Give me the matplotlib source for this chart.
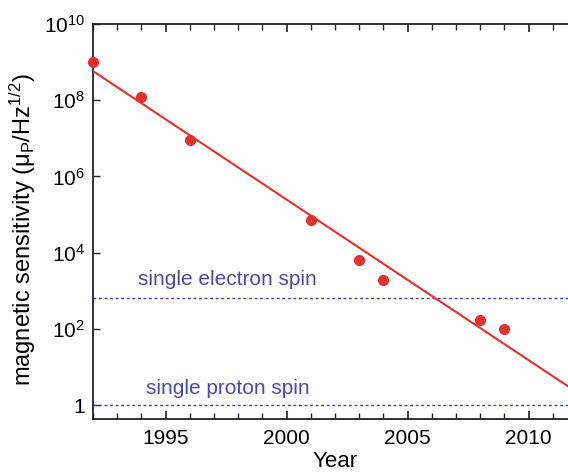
import numpy as np
import matplotlib.pyplot as plt
from matplotlib.ticker import FixedLocator, FixedFormatter, MultipleLocator

plt.rcParams['font.family'] = ['Liberation Sans', 'DejaVu Sans']
plt.rcParams['mathtext.fontset'] = 'custom'
plt.rcParams['mathtext.rm'] = 'Liberation Sans'
plt.rcParams['mathtext.it'] = 'Liberation Sans:italic'

# measured sensitivities
years = [1992, 1994, 1996, 2001, 2003, 2004, 2008, 2009]
sensitivity = [1.0e9, 1.25e8, 9.0e6, 7.0e4, 6.5e3, 1.9e3, 170, 100]

# exponential trend line (end points)
fit_years = [1992, 2011.7]
fit_values = [5.8e8, 2.9]

# reference levels
electron_level = 658
proton_level = 1

ytick_vals = [1, 1e2, 1e4, 1e6, 1e8, 1e10]
ytick_labels = ['1', r'$10^2$', r'$10^4$', r'$10^6$', r'$10^8$', r'$10^{10}$']
xtick_vals = [1995, 2000, 2005, 2010]

red = '#e4312f'
blue = '#3a3acb'
textblue = '#4f4aa8'

fig = plt.figure(figsize=(5.68, 4.73), dpi=100)
ax = fig.add_axes([93/568, 54/473, 475/568, 395/473])

ax.set_yscale('log')
ax.set_xlim(1992, 2011.63)
ax.set_ylim(0.43, 1e10)

ax.plot(fit_years, fit_values, color=red, lw=1.5, zorder=3)
ax.plot(years, sensitivity, 'o', color=red, ms=7, zorder=4, clip_on=False)

ax.axhline(electron_level, color=blue, lw=1.0, ls=(0, (2, 2)))
ax.axhline(proton_level, color=blue, lw=1.0, ls=(0, (2, 2)))
ax.text(1993.85, 1.4e3, 'single electron spin', color=textblue, fontsize=15)
ax.text(1994.2, 2.0, 'single proton spin', color=textblue, fontsize=15)

ax.yaxis.set_major_locator(FixedLocator(ytick_vals))
ax.yaxis.set_major_formatter(FixedFormatter(ytick_labels))
ax.yaxis.set_minor_locator(FixedLocator([]))
ax.xaxis.set_major_locator(FixedLocator(xtick_vals))
ax.xaxis.set_minor_locator(MultipleLocator(1))

ax.tick_params(axis='both', which='both', direction='in', labelsize=15,
               top=True, color='#222222')
ax.tick_params(axis='x', which='major', length=6, width=1.2, pad=7)
ax.tick_params(axis='x', which='minor', length=4, width=1.0)
ax.tick_params(axis='y', which='major', length=5, width=1.0, pad=6)

ax.spines['right'].set_visible(False)
for s in ['left', 'top', 'bottom']:
    ax.spines[s].set_linewidth(1.3)
    ax.spines[s].set_color('#222222')

ax.set_xlabel('Year', fontsize=16)
ax.set_ylabel(r'magnetic sensitivity ($\mathregular{\mu_P}$/Hz$\mathregular{^{1/2}}$)',
              fontsize=17)
ax.xaxis.set_label_coords(0.51, -0.082)
ax.yaxis.set_label_coords(-0.115, 0.478)

fig.savefig('out.png', dpi=100)
